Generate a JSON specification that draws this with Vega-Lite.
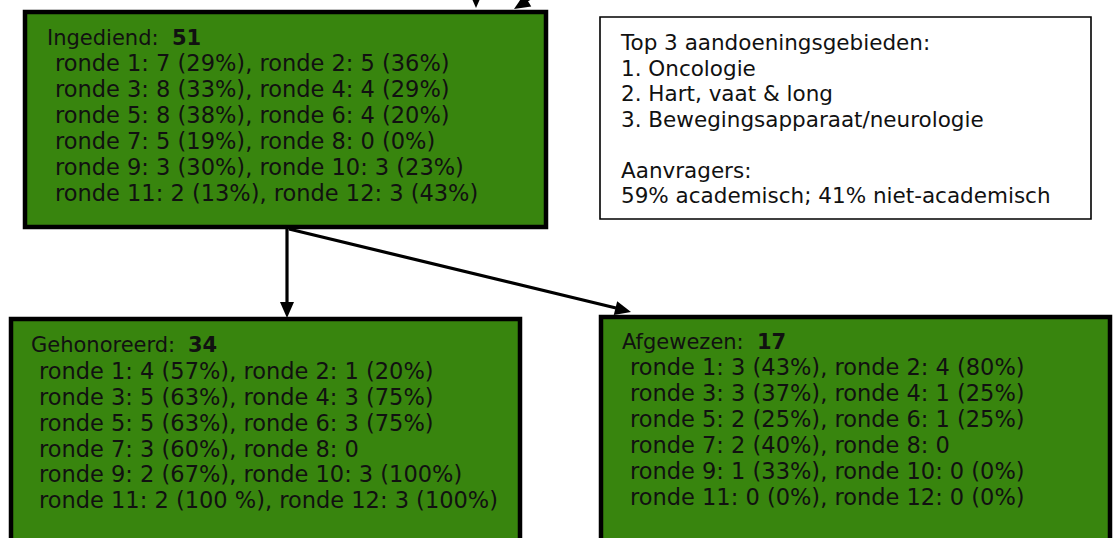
{
  "$schema": "https://vega.github.io/schema/vega-lite/v6.json",
  "width": 1114,
  "height": 538,
  "autosize": {"type": "fit", "contains": "padding"},
  "padding": 0,
  "background": "#ffffff",
  "config": {"view": {"stroke": null}},
  "datasets": {
    "boxes": [
      {"box": "Ingediend", "kind": "green", "x": 25, "x2": 546, "y": 12, "y2": 227},
      {"box": "Info", "kind": "white", "x": 600, "x2": 1091, "y": 17, "y2": 219},
      {"box": "Gehonoreerd", "kind": "green", "x": 11, "x2": 520, "y": 319, "y2": 570},
      {"box": "Afgewezen", "kind": "green", "x": 601, "x2": 1110, "y": 317, "y2": 570}
    ],
    "lines": [
      {"from": "Ingediend", "to": "Gehonoreerd", "x": 287, "y": 228, "x2": 287, "y2": 304},
      {"from": "Ingediend", "to": "Afgewezen", "x": 289, "y": 229, "x2": 616, "y2": 308},
      {"from": "boven", "to": "Ingediend", "x": 520, "y": 4, "x2": 548, "y2": -12}
    ],
    "headsDown": [
      {"to": "Gehonoreerd", "x": 287, "y": 318},
      {"to": "Ingediend", "x": 476, "y": 8}
    ],
    "headsRight": [
      {"to": "Afgewezen", "x": 631, "y": 312}
    ],
    "headsLeft": [
      {"to": "Ingediend", "x": 514, "y": 9}
    ],
    "labels": [
      {"role": "title", "x": 47, "y": 39, "text": "Ingediend:"},
      {"role": "line", "x": 55, "y": 64, "text": "ronde 1: 7 (29%), ronde 2: 5 (36%)"},
      {"role": "line", "x": 55, "y": 90, "text": "ronde 3: 8 (33%), ronde 4: 4 (29%)"},
      {"role": "line", "x": 55, "y": 116, "text": "ronde 5: 8 (38%), ronde 6: 4 (20%)"},
      {"role": "line", "x": 55, "y": 142, "text": "ronde 7: 5 (19%), ronde 8: 0 (0%)"},
      {"role": "line", "x": 55, "y": 168, "text": "ronde 9: 3 (30%), ronde 10: 3 (23%)"},
      {"role": "line", "x": 55, "y": 194, "text": "ronde 11: 2 (13%), ronde 12: 3 (43%)"},
      {"role": "info", "x": 621, "y": 44, "text": "Top 3 aandoeningsgebieden:"},
      {"role": "info", "x": 621, "y": 70, "text": "1. Oncologie"},
      {"role": "info", "x": 621, "y": 95, "text": "2. Hart, vaat & long"},
      {"role": "info", "x": 621, "y": 121, "text": "3. Bewegingsapparaat/neurologie"},
      {"role": "info", "x": 621, "y": 172, "text": "Aanvragers:"},
      {"role": "info", "x": 621, "y": 197, "text": "59% academisch; 41% niet-academisch"},
      {"role": "title", "x": 31, "y": 346, "text": "Gehonoreerd:"},
      {"role": "line", "x": 39, "y": 372, "text": "ronde 1: 4 (57%), ronde 2: 1 (20%)"},
      {"role": "line", "x": 39, "y": 398, "text": "ronde 3: 5 (63%), ronde 4: 3 (75%)"},
      {"role": "line", "x": 39, "y": 424, "text": "ronde 5: 5 (63%), ronde 6: 3 (75%)"},
      {"role": "line", "x": 39, "y": 450, "text": "ronde 7: 3 (60%), ronde 8: 0"},
      {"role": "line", "x": 39, "y": 475, "text": "ronde 9: 2 (67%), ronde 10: 3 (100%)"},
      {"role": "line", "x": 39, "y": 501, "text": "ronde 11: 2 (100 %), ronde 12: 3 (100%)"},
      {"role": "title", "x": 622, "y": 343, "text": "Afgewezen:"},
      {"role": "line", "x": 630, "y": 368, "text": "ronde 1: 3 (43%), ronde 2: 4 (80%)"},
      {"role": "line", "x": 630, "y": 394, "text": "ronde 3: 3 (37%), ronde 4: 1 (25%)"},
      {"role": "line", "x": 630, "y": 420, "text": "ronde 5: 2 (25%), ronde 6: 1 (25%)"},
      {"role": "line", "x": 630, "y": 446, "text": "ronde 7: 2 (40%), ronde 8: 0"},
      {"role": "line", "x": 630, "y": 472, "text": "ronde 9: 1 (33%), ronde 10: 0 (0%)"},
      {"role": "line", "x": 630, "y": 498, "text": "ronde 11: 0 (0%), ronde 12: 0 (0%)"}
    ],
    "totals": [
      {"x": 172, "y": 39, "text": "51"},
      {"x": 188, "y": 346, "text": "34"},
      {"x": 757, "y": 343, "text": "17"}
    ]
  },
  "encoding": {},
  "layer": [
    {
      "data": {"name": "boxes"},
      "transform": [{"filter": "datum.kind === 'green'"}],
      "mark": {"type": "rect", "fill": "#38850e", "stroke": "#000000", "strokeWidth": 4.5, "clip": true},
      "encoding": {
        "x": {"field": "x", "type": "quantitative", "scale": {"domain": [0, 1114], "nice": false, "zero": false}, "axis": null},
        "x2": {"field": "x2"},
        "y": {"field": "y", "type": "quantitative", "scale": {"domain": [538, 0], "nice": false, "zero": false}, "axis": null},
        "y2": {"field": "y2"}
      }
    },
    {
      "data": {"name": "boxes"},
      "transform": [{"filter": "datum.kind === 'white'"}],
      "mark": {"type": "rect", "fill": "#ffffff", "stroke": "#000000", "strokeWidth": 1.6, "clip": true},
      "encoding": {
        "x": {"field": "x", "type": "quantitative"},
        "x2": {"field": "x2"},
        "y": {"field": "y", "type": "quantitative"},
        "y2": {"field": "y2"}
      }
    },
    {
      "data": {"name": "lines"},
      "mark": {"type": "rule", "color": "#000000", "strokeWidth": 3.2, "clip": true},
      "encoding": {
        "x": {"field": "x", "type": "quantitative"},
        "x2": {"field": "x2"},
        "y": {"field": "y", "type": "quantitative"},
        "y2": {"field": "y2"}
      }
    },
    {
      "data": {"name": "headsDown"},
      "mark": {"type": "point", "shape": "M-0.875,-2L0.875,-2L0,0Z", "filled": true, "color": "#000000", "opacity": 1, "size": 256, "angle": 0, "clip": true},
      "encoding": {
        "x": {"field": "x", "type": "quantitative"},
        "y": {"field": "y", "type": "quantitative"}
      }
    },
    {
      "data": {"name": "headsRight"},
      "mark": {"type": "point", "shape": "M-0.875,-2L0.875,-2L0,0Z", "filled": true, "color": "#000000", "opacity": 1, "size": 256, "angle": 284, "clip": true},
      "encoding": {
        "x": {"field": "x", "type": "quantitative"},
        "y": {"field": "y", "type": "quantitative"}
      }
    },
    {
      "data": {"name": "headsLeft"},
      "mark": {"type": "point", "shape": "M-0.875,-2L0.875,-2L0,0Z", "filled": true, "color": "#000000", "opacity": 1, "size": 256, "angle": 58, "clip": true},
      "encoding": {
        "x": {"field": "x", "type": "quantitative"},
        "y": {"field": "y", "type": "quantitative"}
      }
    },
    {
      "data": {"name": "labels"},
      "transform": [{"filter": "datum.role === 'title'"}],
      "mark": {"type": "text", "align": "left", "baseline": "middle", "font": "DejaVu Sans", "fontSize": 21, "color": "#111111"},
      "encoding": {
        "x": {"field": "x", "type": "quantitative"},
        "y": {"field": "y", "type": "quantitative"},
        "text": {"field": "text"}
      }
    },
    {
      "data": {"name": "labels"},
      "transform": [{"filter": "datum.role === 'line'"}],
      "mark": {"type": "text", "align": "left", "baseline": "middle", "font": "DejaVu Sans", "fontSize": 22.5, "color": "#111111"},
      "encoding": {
        "x": {"field": "x", "type": "quantitative"},
        "y": {"field": "y", "type": "quantitative"},
        "text": {"field": "text"}
      }
    },
    {
      "data": {"name": "labels"},
      "transform": [{"filter": "datum.role === 'info'"}],
      "mark": {"type": "text", "align": "left", "baseline": "middle", "font": "DejaVu Sans", "fontSize": 21.5, "color": "#111111"},
      "encoding": {
        "x": {"field": "x", "type": "quantitative"},
        "y": {"field": "y", "type": "quantitative"},
        "text": {"field": "text"}
      }
    },
    {
      "data": {"name": "totals"},
      "mark": {"type": "text", "align": "left", "baseline": "middle", "font": "DejaVu Sans", "fontWeight": "bold", "fontSize": 21, "color": "#111111"},
      "encoding": {
        "x": {"field": "x", "type": "quantitative"},
        "y": {"field": "y", "type": "quantitative"},
        "text": {"field": "text"}
      }
    }
  ]
}
